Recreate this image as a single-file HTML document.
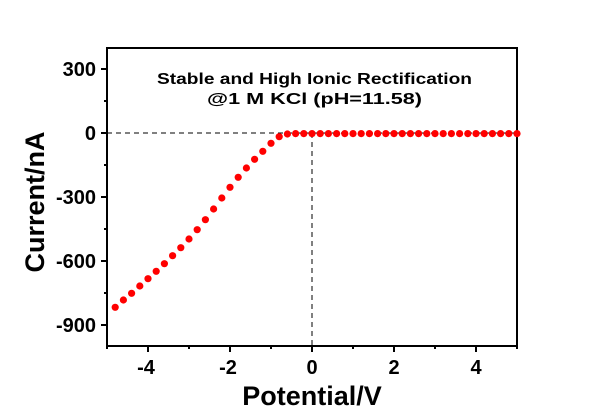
<!DOCTYPE html>
<html><head><meta charset="utf-8"><style>
html,body{margin:0;padding:0;background:#fff;}
svg{display:block;font-family:"Liberation Sans",Arial,sans-serif;font-weight:bold;}
</style></head><body>
<svg width="600" height="416" viewBox="0 0 600 416" xmlns="http://www.w3.org/2000/svg">
<rect width="600" height="416" fill="#fff"/>
<line x1="107" y1="133" x2="517" y2="133" stroke="#000" stroke-width="1" stroke-dasharray="5,4"/>
<line x1="312" y1="133" x2="312" y2="346" stroke="#000" stroke-width="1" stroke-dasharray="5,4"/>
<rect x="107" y="48" width="410" height="298" fill="none" stroke="#000" stroke-width="2"/>
<g stroke="#000" stroke-width="2">
<line x1="101" y1="69" x2="107" y2="69"/>
<line x1="101" y1="133" x2="107" y2="133"/>
<line x1="101" y1="197" x2="107" y2="197"/>
<line x1="101" y1="261" x2="107" y2="261"/>
<line x1="101" y1="325" x2="107" y2="325"/>
<line x1="104" y1="101" x2="107" y2="101"/>
<line x1="104" y1="165" x2="107" y2="165"/>
<line x1="104" y1="229" x2="107" y2="229"/>
<line x1="104" y1="293" x2="107" y2="293"/>
<line x1="148" y1="346" x2="148" y2="352"/>
<line x1="230" y1="346" x2="230" y2="352"/>
<line x1="312" y1="346" x2="312" y2="352"/>
<line x1="394" y1="346" x2="394" y2="352"/>
<line x1="476" y1="346" x2="476" y2="352"/>
<line x1="107" y1="346" x2="107" y2="349"/>
<line x1="189" y1="346" x2="189" y2="349"/>
<line x1="271" y1="346" x2="271" y2="349"/>
<line x1="353" y1="346" x2="353" y2="349"/>
<line x1="435" y1="346" x2="435" y2="349"/>
<line x1="517" y1="346" x2="517" y2="349"/>
</g>
<g font-size="20" text-anchor="end" fill="#000">
<text x="96" y="76">300</text>
<text x="96" y="140">0</text>
<text x="96" y="204">-300</text>
<text x="96" y="268">-600</text>
<text x="96" y="332">-900</text>
</g>
<g font-size="20" text-anchor="middle" fill="#000">
<text x="146" y="374">-4</text>
<text x="228" y="374">-2</text>
<text x="312" y="374">0</text>
<text x="394" y="374">2</text>
<text x="476" y="374">4</text>
</g>
<text x="312" y="405" font-size="27" text-anchor="middle">Potential/V</text>
<text transform="translate(44,202) rotate(-90)" font-size="27" text-anchor="middle">Current/nA</text>
<text x="157" y="84" font-size="16" textLength="315" lengthAdjust="spacingAndGlyphs">Stable and High Ionic Rectification</text>
<text x="207" y="104" font-size="16" textLength="215" lengthAdjust="spacingAndGlyphs">@1 M KCl (pH=11.58)</text>
<g fill="#ff0000">
<circle cx="115.2" cy="307.3" r="3.6"/>
<circle cx="123.4" cy="300" r="3.6"/>
<circle cx="131.6" cy="293.3" r="3.6"/>
<circle cx="139.8" cy="286" r="3.6"/>
<circle cx="148" cy="278.7" r="3.6"/>
<circle cx="156.2" cy="271.3" r="3.6"/>
<circle cx="164.4" cy="263.7" r="3.6"/>
<circle cx="172.6" cy="255.7" r="3.6"/>
<circle cx="180.8" cy="247.7" r="3.6"/>
<circle cx="189" cy="239" r="3.6"/>
<circle cx="197.2" cy="229.7" r="3.6"/>
<circle cx="205.4" cy="219.7" r="3.6"/>
<circle cx="213.6" cy="209" r="3.6"/>
<circle cx="221.8" cy="198" r="3.6"/>
<circle cx="230" cy="187.3" r="3.6"/>
<circle cx="238.2" cy="177.3" r="3.6"/>
<circle cx="246.4" cy="168" r="3.6"/>
<circle cx="254.6" cy="159.3" r="3.6"/>
<circle cx="262.8" cy="151.3" r="3.6"/>
<circle cx="271" cy="143.3" r="3.6"/>
<circle cx="279.2" cy="136.7" r="3.6"/>
<circle cx="287.4" cy="134" r="3.6"/>
<circle cx="295.6" cy="133.6" r="3.6"/>
<circle cx="303.8" cy="133.6" r="3.6"/>
<circle cx="312" cy="133.6" r="3.6"/>
<circle cx="320.2" cy="133.6" r="3.6"/>
<circle cx="328.4" cy="133.6" r="3.6"/>
<circle cx="336.6" cy="133.6" r="3.6"/>
<circle cx="344.8" cy="133.6" r="3.6"/>
<circle cx="353" cy="133.6" r="3.6"/>
<circle cx="361.2" cy="133.6" r="3.6"/>
<circle cx="369.4" cy="133.6" r="3.6"/>
<circle cx="377.6" cy="133.6" r="3.6"/>
<circle cx="385.8" cy="133.6" r="3.6"/>
<circle cx="394" cy="133.6" r="3.6"/>
<circle cx="402.2" cy="133.6" r="3.6"/>
<circle cx="410.4" cy="133.6" r="3.6"/>
<circle cx="418.6" cy="133.6" r="3.6"/>
<circle cx="426.8" cy="133.6" r="3.6"/>
<circle cx="435" cy="133.6" r="3.6"/>
<circle cx="443.2" cy="133.6" r="3.6"/>
<circle cx="451.4" cy="133.6" r="3.6"/>
<circle cx="459.6" cy="133.6" r="3.6"/>
<circle cx="467.8" cy="133.6" r="3.6"/>
<circle cx="476" cy="133.6" r="3.6"/>
<circle cx="484.2" cy="133.6" r="3.6"/>
<circle cx="492.4" cy="133.6" r="3.6"/>
<circle cx="500.6" cy="133.6" r="3.6"/>
<circle cx="508.8" cy="133.6" r="3.6"/>
<circle cx="517" cy="133.6" r="3.6"/>
</g>
</svg>
</body></html>
